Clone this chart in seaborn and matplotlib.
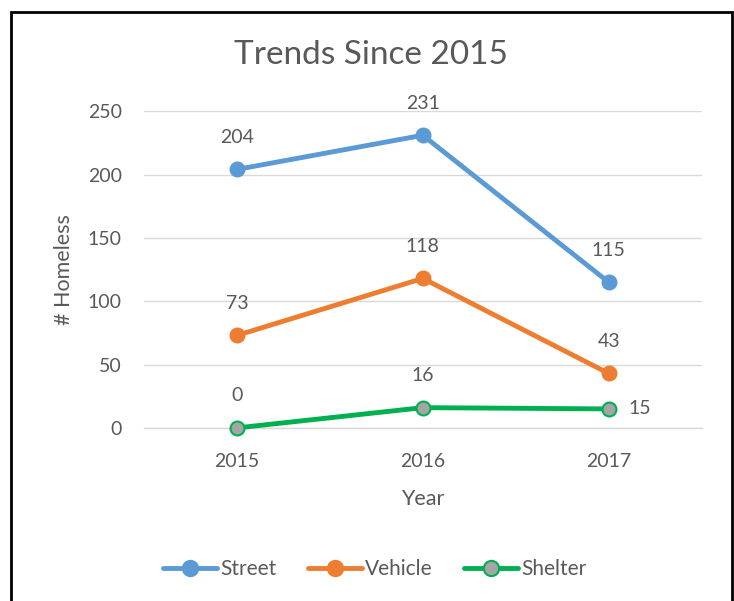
import matplotlib
matplotlib.use("Agg")
import matplotlib.pyplot as plt
from matplotlib.patches import Rectangle
import seaborn as sns
import pandas as pd

# chart data
years = [2015, 2016, 2017]
street = [204, 231, 115]
vehicle = [73, 118, 43]
shelter = [0, 16, 15]
series_names = ["Street", "Vehicle", "Shelter"]

df = pd.DataFrame({
    "Year": years * 3,
    "Homeless": street + vehicle + shelter,
    "Type": [n for n in series_names for _ in years],
})

sns.set_theme(style="white")
plt.rcParams["font.family"] = ["Lato", "DejaVu Sans"]
txt = "#595959"

styles = {
    "Street": dict(color="#5B9BD5", mfc="#5B9BD5", mec="#5B9BD5"),
    "Vehicle": dict(color="#ED7D31", mfc="#ED7D31", mec="#ED7D31"),
    "Shelter": dict(color="#00B050", mfc="#A5A5A5", mec="#00B050"),
}

fig = plt.figure(figsize=(7.34, 6.01), dpi=100)
ax = fig.add_axes([0.196, 0.288, 0.760, 0.527])

for name in series_names:
    st = styles[name]
    sub = df[df["Type"] == name]
    sns.lineplot(data=sub, x="Year", y="Homeless", ax=ax, color=st["color"],
                 linewidth=3.5, marker="o", markersize=10,
                 markerfacecolor=st["mfc"], markeredgecolor=st["mec"],
                 markeredgewidth=1.5, label=name, clip_on=False, zorder=3)
    for x, y in zip(sub["Year"], sub["Homeless"]):
        if name == "Shelter" and x == 2017:
            ax.annotate(str(y), (x, y), xytext=(14, 0), textcoords="offset points",
                        ha="left", va="center", fontsize=14, color=txt)
        else:
            ax.annotate(str(y), (x, y), xytext=(0, 23), textcoords="offset points",
                        ha="center", va="center", fontsize=14, color=txt)

ax.set_xlim(2014.5, 2017.5)
ax.set_xticks(years)
ax.set_ylim(0, 250)
ax.set_yticks(range(0, 251, 50))
ax.grid(axis="y", color="#D9D9D9", linewidth=1)
ax.set_axisbelow(True)
for s in ax.spines.values():
    s.set_visible(False)
ax.spines["bottom"].set_visible(True)
ax.spines["bottom"].set_color("#D9D9D9")
ax.spines["bottom"].set_linewidth(1)
ax.tick_params(axis="x", colors=txt, labelsize=14, length=0, pad=18)
ax.tick_params(axis="y", colors=txt, labelsize=14, length=0, pad=16)
ax.set_xlabel("Year", fontsize=15.5, color=txt, labelpad=14)
ax.set_ylabel("# Homeless", fontsize=15.5, color=txt, labelpad=10)
fig.text(0.505, 1 - 55 / 601, "Trends Since 2015", fontsize=24, color=txt,
         ha="center", va="center")

ax.legend(loc="center", bbox_to_anchor=(0.414, -0.445), ncol=3, frameon=False,
          fontsize=15, handlelength=2.6, handletextpad=0.15, columnspacing=1.5,
          labelcolor=txt, markerscale=1.1)

fig.patches.append(Rectangle((11 / 734, -0.01), 721 / 734, 1 - 12 / 601 + 0.01,
                             transform=fig.transFigure, fill=False,
                             edgecolor="black", linewidth=2))

fig.savefig("out.png", dpi=100)
